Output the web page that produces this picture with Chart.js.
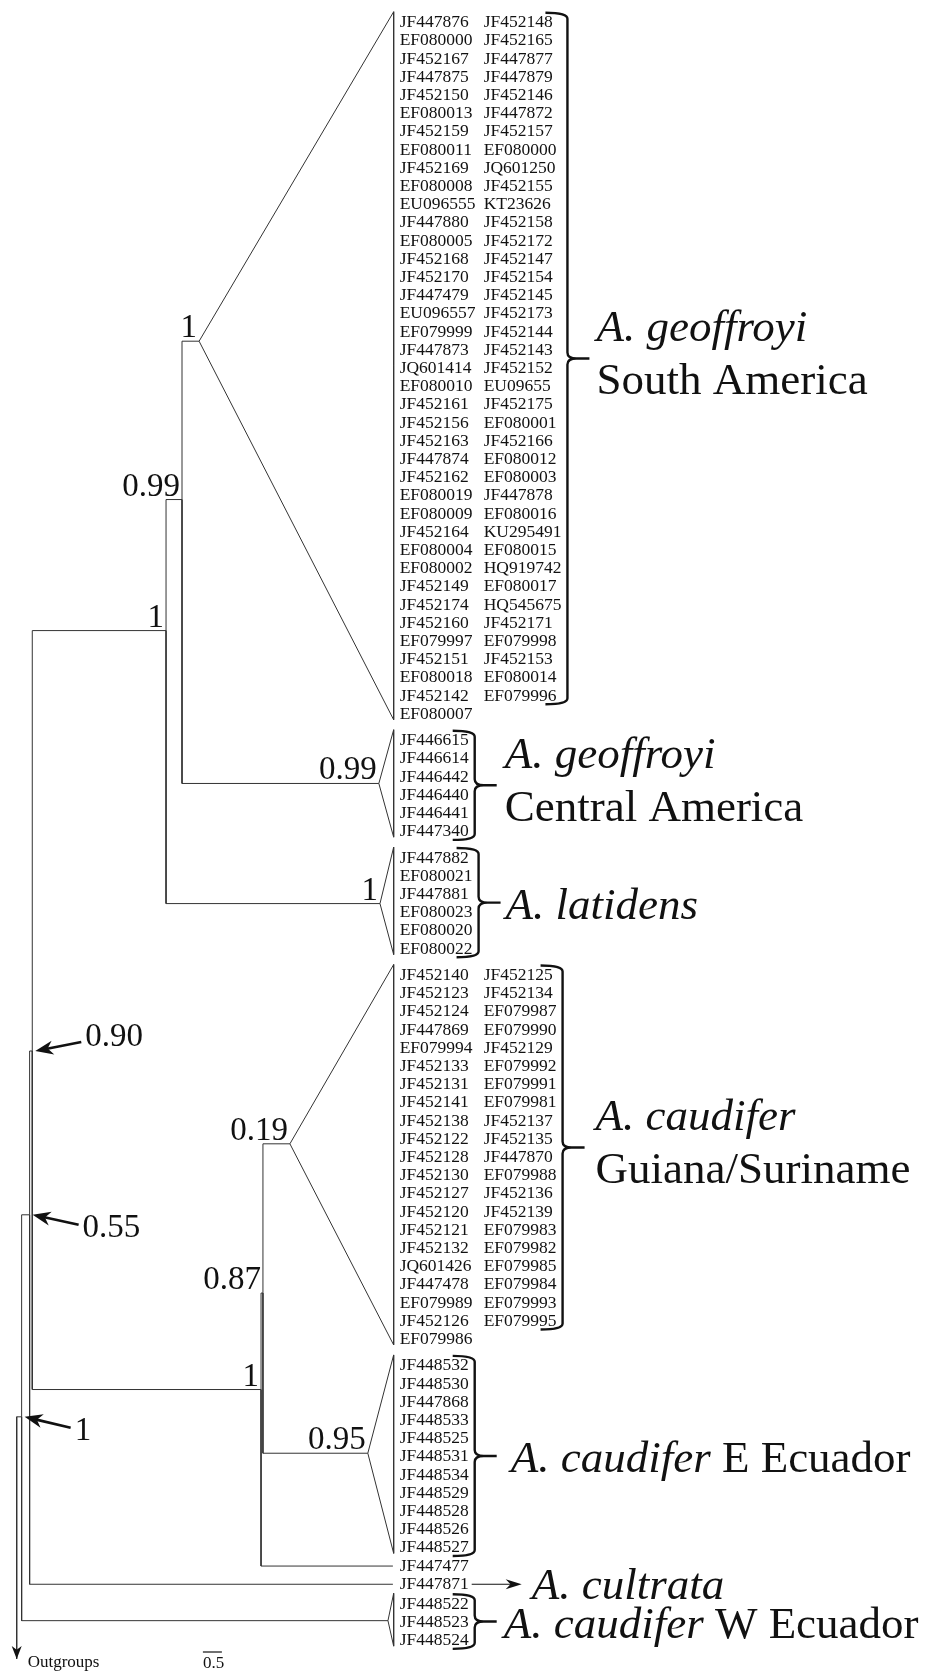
<!DOCTYPE html>
<html>
<head>
<meta charset="utf-8">
<script src="https://cdn.jsdelivr.net/npm/chart.js@4.4.0/dist/chart.umd.min.js"></script>
<style>
  html, body { margin: 0; padding: 0; background: #fff; }
  #tree { display: block; }
</style>
</head>
<body>
<canvas id="tree" width="929" height="1671"></canvas>
<script>
// accession numbers, column by column as printed
const saLeft = ['JF447876','EF080000','JF452167','JF447875','JF452150','EF080013','JF452159','EF080011','JF452169','EF080008',
  'EU096555','JF447880','EF080005','JF452168','JF452170','JF447479','EU096557','EF079999','JF447873','JQ601414',
  'EF080010','JF452161','JF452156','JF452163','JF447874','JF452162','EF080019','EF080009','JF452164','EF080004',
  'EF080002','JF452149','JF452174','JF452160','EF079997','JF452151','EF080018','JF452142','EF080007'];
const saRight = ['JF452148','JF452165','JF447877','JF447879','JF452146','JF447872','JF452157','EF080000','JQ601250','JF452155',
  'KT23626','JF452158','JF452172','JF452147','JF452154','JF452145','JF452173','JF452144','JF452143','JF452152',
  'EU09655','JF452175','EF080001','JF452166','EF080012','EF080003','JF447878','EF080016','KU295491','EF080015',
  'HQ919742','EF080017','HQ545675','JF452171','EF079998','JF452153','EF080014','EF079996'];
const caLeaves = ['JF446615','JF446614','JF446442','JF446440','JF446441','JF447340'];
const latLeaves = ['JF447882','EF080021','JF447881','EF080023','EF080020','EF080022'];
const guiLeft = ['JF452140','JF452123','JF452124','JF447869','EF079994','JF452133','JF452131','JF452141','JF452138','JF452122',
  'JF452128','JF452130','JF452127','JF452120','JF452121','JF452132','JQ601426','JF447478','EF079989','JF452126','EF079986'];
const guiRight = ['JF452125','JF452134','EF079987','EF079990','JF452129','EF079992','EF079991','EF079981','JF452137','JF452135',
  'JF447870','EF079988','JF452136','JF452139','EF079983','EF079982','EF079985','EF079984','EF079993','EF079995'];
const eeLeaves = ['JF448532','JF448530','JF447868','JF448533','JF448525','JF448531','JF448534','JF448529','JF448528','JF448526','JF448527'];
const singleLeaves = ['JF447477','JF447871'];
const weLeaves = ['JF448522','JF448523','JF448524'];

// clade names
const cladeSpecies = ['A. geoffroyi','A. geoffroyi','A. latidens','A. caudifer','A. caudifer','','A. cultrata','A. caudifer'];
const cladeRegion = ['South America','Central America','','Guiana/Suriname','E Ecuador','','','W Ecuador'];

// tree: depth in branch-length units, row in leaf rows
const nodeIds = ['root','n1','n055','n090','nGL','n099','nSA','nCA','nLat','nCaud','n087','nGui','nEE','tip477','tipCul','nWE'];
const nodeParent = [null,'root','n1','n055','n090','nGL','n099','n099','nGL','n090','nCaud','n087','n087','nCaud','n055','n1'];
const nodeDepth = [0, 0.13, 0.34, 0.41, 3.93, 4.35, 4.80, 9.53, 9.56, 6.43, 6.48, 7.19, 9.24, 9.90, 9.90, 9.77];
const nodeRow = [76.6, 76.6, 65.5, 56.5, 33.4, 26.2, 17.5, 41.8, 48.4, 75.1, 69.8, 61.6, 78.6, null, null, 87.8];
const nodeSupport = ['', '1', '0.55', '0.90', '1', '0.99', '1', '0.99', '1', '1', '0.87', '0.19', '0.95', '', '', ''];
const groupNode = ['nSA','nCA','nLat','nGui','nEE','tip477','tipCul','nWE'];
const tipDepth = 9.92;
const outgroupEndRow = 89.9;
const scaleBarLength = 0.5;
const scaleBarLabel = '0.5';

// layout
const W = 929, H = 1671;
const unitPx = 38, rootPx = 16.7, rowPx = 18.2, row0Px = 22.7;
const groupGap = [0, 0.45, 0.45, 0.45, 0.45, 0, 0, 0.1];
const stacked = [true, true, false, true, false, false, false, false];
const labelDx = [29, 30, 27, 33, 36, 0, 0, 29];
const arrowDy = { n1: 11, n055: 10, n090: -9 };
const serif = "'Liberation Serif', 'Times New Roman', serif";
const lineCol = '#333';

const leafGroups = [saLeft, caLeaves, latLeaves, guiLeft, eeLeaves, [singleLeaves[0]], [singleLeaves[1]], weLeaves];
const leafRight = [saRight, [], [], guiRight, [], [], [], []];
const groupStart = [];
let acc = 0;
leafGroups.forEach((g, i) => { acc += groupGap[i]; groupStart.push(acc); acc += g.length; });

const idx = id => nodeIds.indexOf(id);
groupNode.forEach((id, g) => {
  if (nodeRow[idx(id)] === null) nodeRow[idx(id)] = groupStart[g];
});

const datasets = [];
const seg = pts => datasets.push({
  data: pts, showLine: true, pointRadius: 0, borderColor: lineCol, borderWidth: 1, fill: false
});

// elbows
nodeIds.forEach((id, i) => {
  const p = nodeParent[i];
  if (!p) return;
  const j = idx(p);
  seg([{ x: nodeDepth[j], y: nodeRow[j] }, { x: nodeDepth[j], y: nodeRow[i] }, { x: nodeDepth[i], y: nodeRow[i] }]);
});
// collapsed clades
leafGroups.forEach((g, gi) => {
  if (g.length < 2) return;
  const k = idx(groupNode[gi]);
  const top = groupStart[gi] - 0.6, bot = groupStart[gi] + g.length - 1 + 0.3;
  seg([{ x: nodeDepth[k], y: nodeRow[k] }, { x: tipDepth, y: top }, { x: tipDepth, y: bot }, { x: nodeDepth[k], y: nodeRow[k] }]);
});
// outgroup stem
seg([{ x: 0, y: nodeRow[0] }, { x: 0, y: outgroupEndRow }]);

function arrowHead(ctx, x, y, ang, len, half) {
  ctx.beginPath();
  ctx.moveTo(x, y);
  ctx.lineTo(x - len * Math.cos(ang) + half * Math.sin(ang), y - len * Math.sin(ang) - half * Math.cos(ang));
  ctx.lineTo(x - len * 0.7 * Math.cos(ang), y - len * 0.7 * Math.sin(ang));
  ctx.lineTo(x - len * Math.cos(ang) - half * Math.sin(ang), y - len * Math.sin(ang) + half * Math.cos(ang));
  ctx.closePath();
  ctx.fill();
}

function brace(ctx, x, top, bot, tip) {
  const arm = 22, tl = 22;
  ctx.beginPath();
  ctx.moveTo(x - arm, top);
  ctx.quadraticCurveTo(x, top, x, top + 6);
  ctx.lineTo(x, tip - 6);
  ctx.quadraticCurveTo(x, tip, x + 9, tip);
  ctx.lineTo(x + tl, tip);
  ctx.moveTo(x + 9, tip);
  ctx.quadraticCurveTo(x, tip, x, tip + 6);
  ctx.lineTo(x, bot - 6);
  ctx.quadraticCurveTo(x, bot, x - arm, bot);
  ctx.stroke();
}

const treeText = {
  id: 'treeText',
  afterDatasetsDraw(chart) {
    const ctx = chart.ctx, xs = chart.scales.x, ys = chart.scales.y;
    const px = v => xs.getPixelForValue(v), py = v => ys.getPixelForValue(v);
    ctx.save();
    ctx.fillStyle = '#111';
    ctx.strokeStyle = '#111';

    // accession labels
    ctx.font = '17.5px ' + serif;
    ctx.textBaseline = 'middle';
    ctx.textAlign = 'left';
    const tx = px(tipDepth) + 6;
    const rightEdge = [];
    leafGroups.forEach((g, gi) => {
      let maxR = 0;
      g.forEach((name, k) => {
        ctx.fillText(name, tx, py(groupStart[gi] + k));
        maxR = Math.max(maxR, tx + ctx.measureText(name).width);
      });
      leafRight[gi].forEach((name, k) => {
        ctx.fillText(name, tx + 84, py(groupStart[gi] + k));
        maxR = Math.max(maxR, tx + 84 + ctx.measureText(name).width);
      });
      rightEdge.push(maxR);
    });

    // braces and clade names
    ctx.lineWidth = 2.4;
    leafGroups.forEach((g, gi) => {
      if (!cladeSpecies[gi]) return;
      ctx.textBaseline = 'alphabetic';
      if (g.length === 1) {
        const y = py(groupStart[gi]);
        const x0 = rightEdge[gi] + 3, x1 = x0 + 50;
        ctx.lineWidth = 1.2;
        ctx.beginPath(); ctx.moveTo(x0, y); ctx.lineTo(x1 - 6, y); ctx.stroke();
        arrowHead(ctx, x1, y, 0, 16, 5);
        ctx.font = 'italic 45px ' + serif;
        ctx.fillText(cladeSpecies[gi], x1 + 10, y + 15);
        ctx.lineWidth = 2.4;
        return;
      }
      const n = leafRight[gi].length || g.length;
      const top = py(groupStart[gi] - 0.55), bot = py(groupStart[gi] + n - 1 + 0.45);
      const tip = (top + bot) / 2;
      const bx = rightEdge[gi] + 6;
      brace(ctx, bx, top, bot, tip);
      const lx = bx + labelDx[gi];
      ctx.font = 'italic 45px ' + serif;
      if (stacked[gi]) {
        ctx.fillText(cladeSpecies[gi], lx, tip - 17);
        ctx.font = '45px ' + serif;
        ctx.fillText(cladeRegion[gi], lx, tip + 36);
      } else {
        ctx.fillText(cladeSpecies[gi], lx, tip + 16);
        if (cladeRegion[gi]) {
          const w = ctx.measureText(cladeSpecies[gi] + ' ').width;
          ctx.font = '45px ' + serif;
          ctx.fillText(cladeRegion[gi], lx + w, tip + 16);
        }
      }
    });

    // support values
    ctx.font = '33px ' + serif;
    nodeIds.forEach((id, i) => {
      const s = nodeSupport[i];
      if (!s) return;
      const x = px(nodeDepth[i]), y = py(nodeRow[i]);
      if (id in arrowDy) {
        const dy = arrowDy[id];
        const tipX = x + 3, tailX = tipX + 46, tailY = y + dy;
        const ang = Math.atan2(y - tailY, tipX - tailX);
        ctx.lineWidth = 2.6;
        ctx.beginPath();
        ctx.moveTo(tailX, tailY);
        ctx.lineTo(tipX - 12 * Math.cos(ang), y - 12 * Math.sin(ang));
        ctx.stroke();
        arrowHead(ctx, tipX, y, ang, 18, 7);
        ctx.textAlign = 'left';
        ctx.textBaseline = 'middle';
        ctx.fillText(s, tailX + 4, tailY + (dy > 0 ? 4 : -5));
      } else {
        ctx.textAlign = 'right';
        ctx.textBaseline = 'alphabetic';
        ctx.fillText(s, x - 2, y - 4);
      }
    });

    // outgroup arrow and label
    const ox = px(0), oy = py(outgroupEndRow);
    arrowHead(ctx, ox, oy, Math.PI / 2, 13, 5);
    ctx.font = '17px ' + serif;
    ctx.textAlign = 'left';
    ctx.textBaseline = 'alphabetic';
    ctx.fillText('Outgroups', ox + 11, H - 4);

    // scale bar
    const sx0 = px(4.9), sx1 = px(4.9 + scaleBarLength);
    ctx.lineWidth = 1.2;
    ctx.beginPath(); ctx.moveTo(sx0, H - 19); ctx.lineTo(sx1, H - 19); ctx.stroke();
    ctx.fillText(scaleBarLabel, sx0, H - 3);
    ctx.restore();
  }
};

new Chart(document.getElementById('tree'), {
  type: 'scatter',
  data: { datasets },
  options: {
    responsive: false,
    animation: false,
    devicePixelRatio: 1,
    events: [],
    layout: { padding: 0 },
    plugins: { legend: { display: false }, tooltip: { enabled: false } },
    scales: {
      x: { type: 'linear', display: false, min: -rootPx / unitPx, max: (W - rootPx) / unitPx },
      y: { type: 'linear', display: false, reverse: true, min: -row0Px / rowPx, max: (H - row0Px) / rowPx }
    }
  },
  plugins: [treeText]
});
</script>
</body>
</html>
